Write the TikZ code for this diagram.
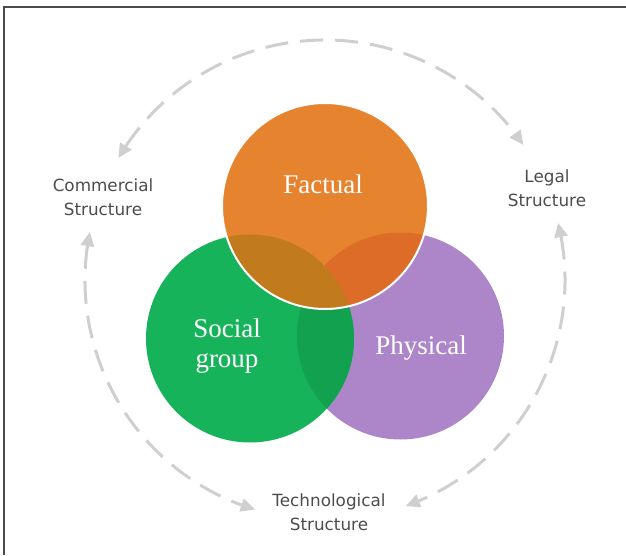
\documentclass[tikz,border=0pt]{standalone}
\usepackage{fontspec}
\setmainfont{Liberation Serif}
\newfontfamily\labelfont{DejaVu Sans}
\usetikzlibrary{arrows.meta,bending,calc}
\definecolor{cOrange}{HTML}{E6832F}
\definecolor{cGreen}{HTML}{17B35B}
\definecolor{cPurple}{HTML}{AC86C8}
\definecolor{cGP}{HTML}{12A24F}
\definecolor{cOP}{HTML}{DC6C28}
\definecolor{cOG}{HTML}{C17B1C}
\definecolor{cDash}{HTML}{CFCFCF}
\definecolor{cText}{HTML}{4C4C4C}
\definecolor{cFrame}{HTML}{4A4A4A}
\tikzset{
  cyclearrow/.style={draw=cDash, line width=3pt, dash pattern=on 23pt off 12pt,
    {Triangle[length=14pt,width=14pt,fill=cDash,line width=0pt]}-{Triangle[length=14pt,width=14pt,fill=cDash,line width=0pt]}},
  structlabel/.style={font=\labelfont\fontsize{16.8}{24}\selectfont, text=cText, align=center, inner sep=0pt},
  circlelabel/.style={font=\fontsize{27}{30}\selectfont, text=white, align=center, inner sep=0pt}
}
\begin{document}
\begin{tikzpicture}[x=1pt,y=1pt]
\useasboundingbox (0,0) rectangle (626,555);
% frame
\draw[cFrame, line width=2pt] (4,0) -- (4,548) -- (626,548);
% centres
\coordinate (O) at (325,349);
\coordinate (G) at (250,216.5);
\coordinate (P) at (400.5,219);
\coordinate (D) at (325,275);
% circles
\fill[cPurple] (P) circle[radius=103.5pt];
\fill[cGreen] (G) circle[radius=104pt];
\begin{scope}
  \clip (G) circle[radius=104pt];
  \fill[cGP] (P) circle[radius=103.5pt];
\end{scope}
\fill[cOrange] (O) circle[radius=103pt];
\begin{scope}
  \clip (O) circle[radius=103pt];
  \fill[cOP] (P) circle[radius=103.5pt];
  \fill[cOG] (G) circle[radius=104pt];
\end{scope}
\draw[white, line width=2pt] (O) circle[radius=103pt];
% circle labels
\node[circlelabel, anchor=base] (factual) at (323,361) {Factual};
\node[circlelabel] (social) at (227,209) {Social\\group};
\node[circlelabel, anchor=base] (physical) at (421,201) {Physical};
% structure labels
\node[structlabel] (commercial) at (103,358) {Commercial\\Structure};
\node[structlabel] (legal) at (547,367) {Legal\\Structure};
\node[structlabel] (techno) at (329,43) {Technological\\Structure};
% arc end points
\coordinate (topA) at ($(D)+(149.4:240pt)$);
\coordinate (leftA) at ($(D)+(168.5:240pt)$);
\coordinate (rightA) at ($(D)+(13.7:240pt)$);
% cycle arcs
\draw[cyclearrow] (topA) arc[start angle=149.4, end angle=34.3, radius=240pt];
\draw[cyclearrow] (leftA) arc[start angle=168.5, end angle=253, radius=240pt];
\draw[cyclearrow] (rightA) arc[start angle=13.7, end angle=-70.3, radius=240pt];
\end{tikzpicture}
\end{document}
